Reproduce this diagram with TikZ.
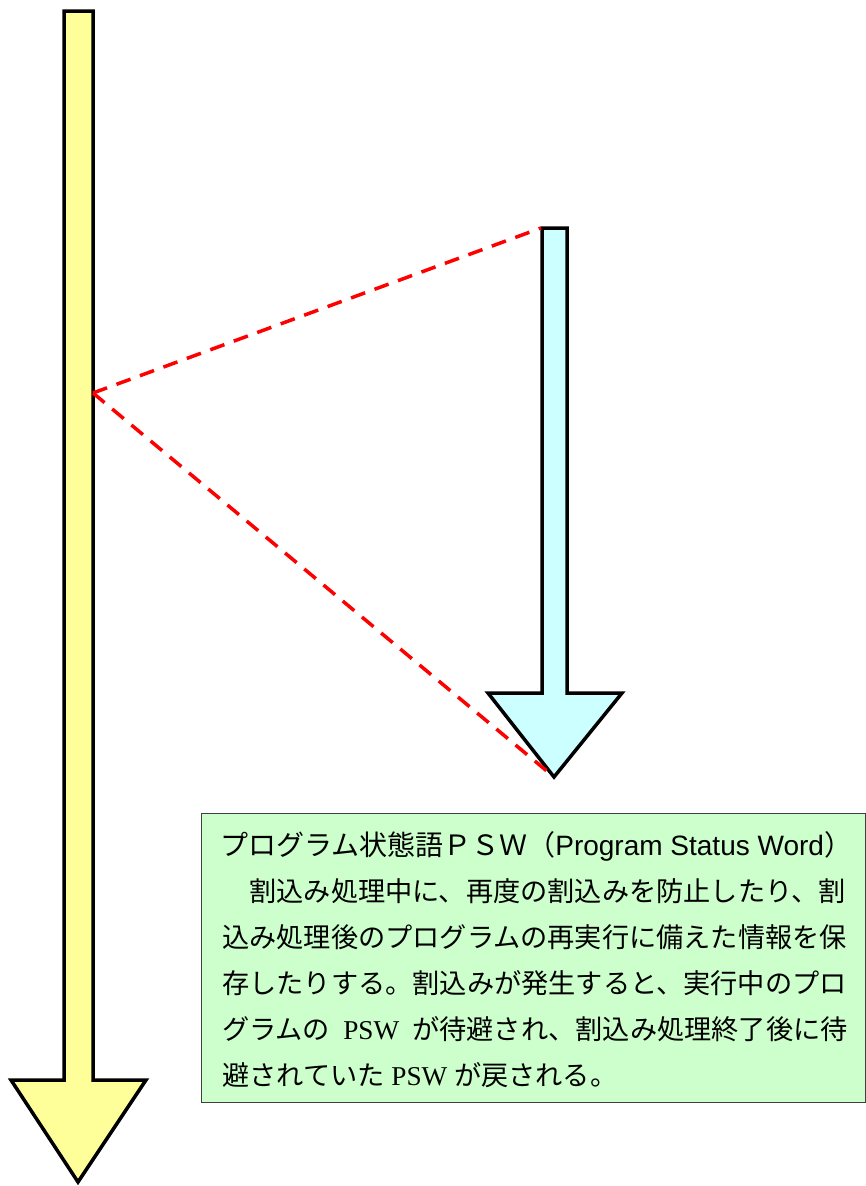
\documentclass[tikz,border=0pt]{standalone}
\usepackage{fontspec}
\newfontfamily\jpfont{Noto Sans CJK JP}
\newfontfamily\latsans{Liberation Sans}
\newfontfamily\latserif{Liberation Serif}
\definecolor{ylw}{HTML}{FFFF99}
\definecolor{cyanfill}{HTML}{CCFFFF}
\definecolor{grn}{HTML}{CCFFCC}
\definecolor{redline}{HTML}{FF0000}
\tikzset{
  bigarrow/.style={draw=black, line width=3.5pt, line join=miter},
  guide/.style={draw=redline, line width=3.5pt, dash pattern=on 15pt off 10pt},
  notebox/.style={draw=black!75, fill=grn, line width=1pt},
  titletext/.style={anchor=west, inner sep=0pt, font=\jpfont\fontsize{28}{32}\selectfont},
  bodytext/.style={anchor=west, inner sep=0pt, font=\jpfont\fontsize{27.2}{32}\selectfont}
}
\begin{document}
\begin{tikzpicture}[x=1pt,y=-1pt]
\useasboundingbox (0,0) rectangle (866,1186);
% yellow arrow
\draw[bigarrow, fill=ylw] (64,11) -- (93,11) -- (93,1080) -- (146,1080) -- (78,1182) -- (11,1080) -- (64,1080) -- cycle;
% cyan arrow
\draw[bigarrow, fill=cyanfill] (542,228) -- (567,228) -- (567,693) -- (622,693) -- (554,777) -- (488,693) -- (542,693) -- cycle;
\coordinate (src) at (93,393);
\coordinate (ctop) at (541,228);
\coordinate (ctip) at (554,777);
\draw[guide] (src) -- (ctop);
\draw[guide] (src) -- (ctip);
% note box
\draw[notebox] (201,813) rectangle (865,1102);
\node[titletext] (title) at (220,846) {プログラム状態語ＰＳＷ（{\latsans Program Status Word}）};
\node[bodytext] (l1) at (222,891) {　割込み処理中に、再度の割込みを防止したり、割};
\node[bodytext] (l2) at (222,937) {込み処理後のプログラムの再実行に備えた情報を保};
\node[bodytext] (l3) at (222,983) {存したりする。割込みが発生すると、実行中のプロ};
\node[bodytext] (l4) at (222,1029) {\makebox[625.6pt][s]{グラムの\hspace{0pt plus 1fill}{\latserif PSW}\hspace{0pt plus 1fill}が待避され、割込み処理終了後に待}};
\node[bodytext] (l5) at (222,1075) {避されていた{\latserif\ PSW }が戻される。};
\end{tikzpicture}
\end{document}
